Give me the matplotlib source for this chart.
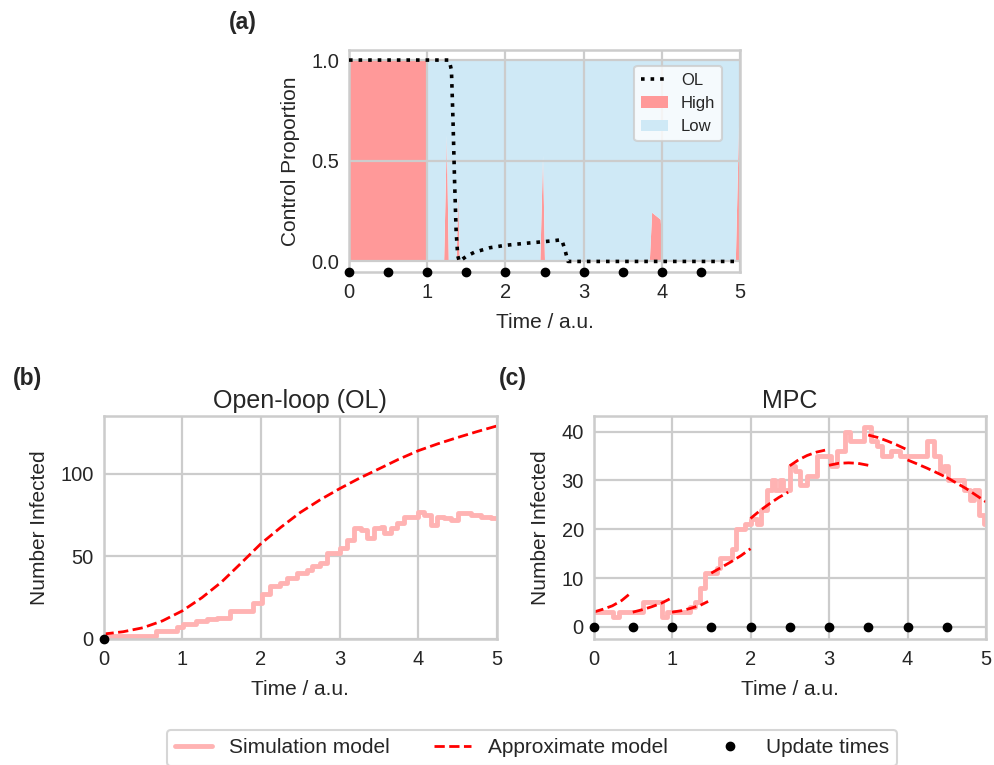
import numpy as np
import matplotlib
matplotlib.use("Agg")
import matplotlib.pyplot as plt
import seaborn as sns

sns.set_style("whitegrid")
plt.rcParams['font.family'] = ['Liberation Sans', 'DejaVu Sans']

# tiempos de actualizacion del control
update_times = [0, 0.5, 1, 1.5, 2, 2.5, 3, 3.5, 4, 4.5]

# panel (a): proporcion de control
ctrl_t = [0, 1.0, 1.0, 1.21, 1.245, 1.27, 1.37, 1.39, 1.41, 2.44, 2.475, 2.5,
          3.84, 3.87, 3.90, 3.98, 4.01, 4.94, 5.0]
ctrl_high = [1, 1, 0, 0, 0.63, 0, 0, 0.35, 0, 0, 0.53, 0,
             0, 0.245, 0.235, 0.21, 0, 0, 1.0]
ol_t = [0, 1.28, 1.31, 1.33, 1.35, 1.37, 1.39, 1.41, 1.5, 1.6, 1.8, 2.0,
        2.2, 2.4, 2.6, 2.72, 2.76, 2.80, 5.0]
ol_high = [1, 1, 0.95, 0.7, 0.4, 0.15, 0.03, 0.0, 0.025, 0.045, 0.068, 0.08,
           0.088, 0.095, 0.102, 0.108, 0.06, 0.0, 0.0]

# panel (b): open-loop
ol_sim_t = [0, 0.46, 0.67, 0.93, 1.01, 1.18, 1.31, 1.44, 1.61, 1.78, 1.9, 2.01,
            2.12, 2.24, 2.33, 2.46, 2.58, 2.65, 2.75, 2.84, 3.01, 3.1, 3.18,
            3.27, 3.35, 3.44, 3.52, 3.56, 3.65, 3.73, 3.82, 3.99, 4.07, 4.16,
            4.24, 4.33, 4.41, 4.5, 4.67, 4.8, 4.92, 5.0]
ol_sim_n = [2, 2, 5, 7, 9, 11, 12, 13, 17, 17, 22, 27,
            32, 34, 37, 40, 42, 44, 46, 52, 55, 60, 67,
            66, 61, 67, 68, 64, 67, 70, 74, 77, 75, 69,
            74, 73, 72, 76, 75, 74, 73, 73]
ol_approx_t = [0, 0.25, 0.5, 0.75, 1, 1.25, 1.5, 1.75, 2, 2.25, 2.5, 2.75,
               3, 3.25, 3.5, 3.75, 4, 4.25, 4.5, 4.75, 5]
ol_approx_n = [3, 4.4, 6.8, 11, 17, 25, 34.5, 46, 57.7, 67.5, 76.6, 84.2,
               91, 97.3, 103, 108.8, 114, 118.2, 122, 125.6, 129]

# panel (c): MPC
mpc_sim_t = [0, 0.25, 0.27, 0.33, 0.61, 0.63, 0.8, 0.87, 0.93, 1.23, 1.29,
             1.36, 1.42, 1.57, 1.61, 1.7, 1.76, 1.82, 1.87, 1.93, 2.0, 2.08,
             2.14, 2.21, 2.27, 2.31, 2.38, 2.42, 2.5, 2.57, 2.63, 2.72, 2.85,
             2.95, 3.02, 3.1, 3.21, 3.27, 3.4, 3.44, 3.53, 3.61, 3.68, 3.79,
             3.91, 4.21, 4.25, 4.34, 4.42, 4.47, 4.51, 4.68, 4.72, 4.79, 4.85,
             4.91, 4.98, 5.0]
mpc_sim_n = [3, 2, 2, 3, 3, 5, 5, 2, 3, 4, 5,
             8, 11, 12, 14, 14, 16, 20, 20, 21, 22, 21,
             24, 28, 30, 28, 30, 28, 33, 32, 29, 31, 35,
             35, 33, 36, 40, 38, 38, 41, 38, 37, 35, 36,
             35, 35, 38, 35, 32, 33, 30, 30, 28, 26, 28,
             23, 21, 21]
mpc_approx_t = [
    [0, 0.12, 0.24, 0.36, 0.48],
    [0.5, 0.62, 0.74, 0.86, 0.97],
    [1.0, 1.12, 1.24, 1.36, 1.46],
    [1.5, 1.62, 1.75, 1.88, 2.0],
    [2.0, 2.12, 2.24, 2.36, 2.48],
    [2.5, 2.61, 2.72, 2.84, 2.95],
    [3.0, 3.12, 3.25, 3.37, 3.5],
    [3.5, 3.62, 3.74, 3.86, 3.98],
    [4.0, 4.12, 4.25, 4.37, 4.5],
    [4.5, 4.62, 4.75, 4.87, 5.0],
]
mpc_approx_n = [
    [3, 3.6, 4.3, 5.4, 7.0],
    [3, 3.5, 4.1, 4.8, 5.7],
    [3, 3.3, 3.8, 4.4, 5.2],
    [11, 12.1, 13.3, 14.6, 16.0],
    [22.2, 23.8, 25.2, 26.5, 27.6],
    [33, 34.2, 35.1, 35.8, 36.2],
    [33.1, 33.5, 33.6, 33.5, 33.1],
    [39.3, 38.8, 38.1, 37.3, 36.4],
    [34.2, 33.4, 32.5, 31.6, 30.6],
    [30.6, 29.5, 28.3, 27.0, 25.6],
]

sim_color = (1.0, 0.7, 0.7)
high_color = '#ff9999'
low_color = '#cfe9f6'
txt_color = '#262626'
tick_fs = 14.5
label_fs = 15

fig = plt.figure(figsize=(9.94, 7.65), dpi=100)
ax_a = fig.add_axes([349/994, 1-271.5/765, 391/994, 221.5/765])
ax_b = fig.add_axes([103.5/994, 1-639/765, 393.5/994, 223/765])
ax_c = fig.add_axes([593.5/994, 1-639/765, 392.5/994, 223/765])

for ax in (ax_a, ax_b, ax_c):
    ax.grid(True, color='#cccccc', lw=1.6)
    for s in ax.spines.values():
        s.set_color('#cccccc')
        s.set_linewidth(1.8)
    ax.tick_params(labelsize=tick_fs, length=0, colors=txt_color)
    ax.tick_params(axis='x', pad=8)
    ax.tick_params(axis='y', pad=7)
    ax.set_xlim(0, 5)
    ax.set_xticks([0, 1, 2, 3, 4, 5])
    ax.set_xlabel('Time / a.u.', fontsize=label_fs, color=txt_color, labelpad=8)

### Panel (a) ###
ax_a.set_axisbelow('line')
ax_a.fill_between(ctrl_t, 0, ctrl_high, color=high_color, lw=0, label='High', zorder=1)
ax_a.fill_between(ctrl_t, ctrl_high, 1, color=low_color, lw=0, label='Low', zorder=1)
ax_a.plot(ol_t, ol_high, ':', color='k', lw=2.6, label='OL', zorder=3)
ax_a.plot(update_times, [-0.05]*len(update_times), 'o', color='k', ms=6,
          clip_on=False, zorder=5)
ax_a.set_ylim(-0.05, 1.05)
ax_a.set_yticks([0.0, 0.5, 1.0])
ax_a.set_yticklabels(['0.0', '0.5', '1.0'])
ax_a.set_ylabel('Control Proportion', fontsize=label_fs, color=txt_color, labelpad=8)
h, l = ax_a.get_legend_handles_labels()
leg_a = ax_a.legend([h[2], h[0], h[1]], [l[2], l[0], l[1]], loc='upper right',
                    bbox_to_anchor=(0.954, 0.928), borderaxespad=0,
                    fontsize=12, frameon=True, handlelength=1.6)
leg_a.get_frame().set_edgecolor('#cccccc')
leg_a.get_frame().set_linewidth(1.5)

### Panel (b) ###
ax_b.plot(ol_sim_t, ol_sim_n, color=sim_color, lw=3.5, drawstyle='steps-post')
ax_b.plot(ol_approx_t, ol_approx_n, '--', color='red', lw=2)
ax_b.plot([0], [0], 'o', color='k', ms=6, clip_on=False, zorder=5)
ax_b.set_ylim(0, 135)
ax_b.set_yticks([0, 50, 100])
ax_b.set_ylabel('Number Infected', fontsize=label_fs, color=txt_color, labelpad=8)
ax_b.set_title('Open-loop (OL)', fontsize=18, color=txt_color)

### Panel (c) ###
ax_c.plot(mpc_sim_t, mpc_sim_n, color=sim_color, lw=3.5, drawstyle='steps-post',
          label='Simulation model')
for i in range(len(mpc_approx_t)):
    ax_c.plot(mpc_approx_t[i], mpc_approx_n[i], '--', color='red', lw=2,
              label='Approximate model' if i == 0 else None)
ax_c.plot(update_times, [0]*len(update_times), 'o', color='k', ms=6,
          clip_on=False, zorder=5, label='Update times')
ax_c.set_ylim(-2.5, 43.2)
ax_c.set_yticks([0, 10, 20, 30, 40])
ax_c.set_ylabel('Number Infected', fontsize=label_fs, color=txt_color, labelpad=8)
ax_c.set_title('MPC', fontsize=18, color=txt_color)

# etiquetas de los paneles
fig.text(229/994, 1-22/765, '(a)', fontsize=16.5, fontweight='bold', va='center', color=txt_color)
fig.text(12.5/994, 1-379/765, '(b)', fontsize=16.5, fontweight='bold', va='center', color=txt_color)
fig.text(499/994, 1-379/765, '(c)', fontsize=16.5, fontweight='bold', va='center', color=txt_color)

h, l = ax_c.get_legend_handles_labels()
leg = fig.legend(h, l, loc='upper center', bbox_to_anchor=(0.535, 1-730/765),
                 borderaxespad=0, ncol=3, fontsize=15, frameon=True,
                 handlelength=1.8, columnspacing=2.1)
leg.get_frame().set_edgecolor('#cccccc')
leg.get_frame().set_linewidth(1.5)

plt.savefig('out.png', dpi=100)
